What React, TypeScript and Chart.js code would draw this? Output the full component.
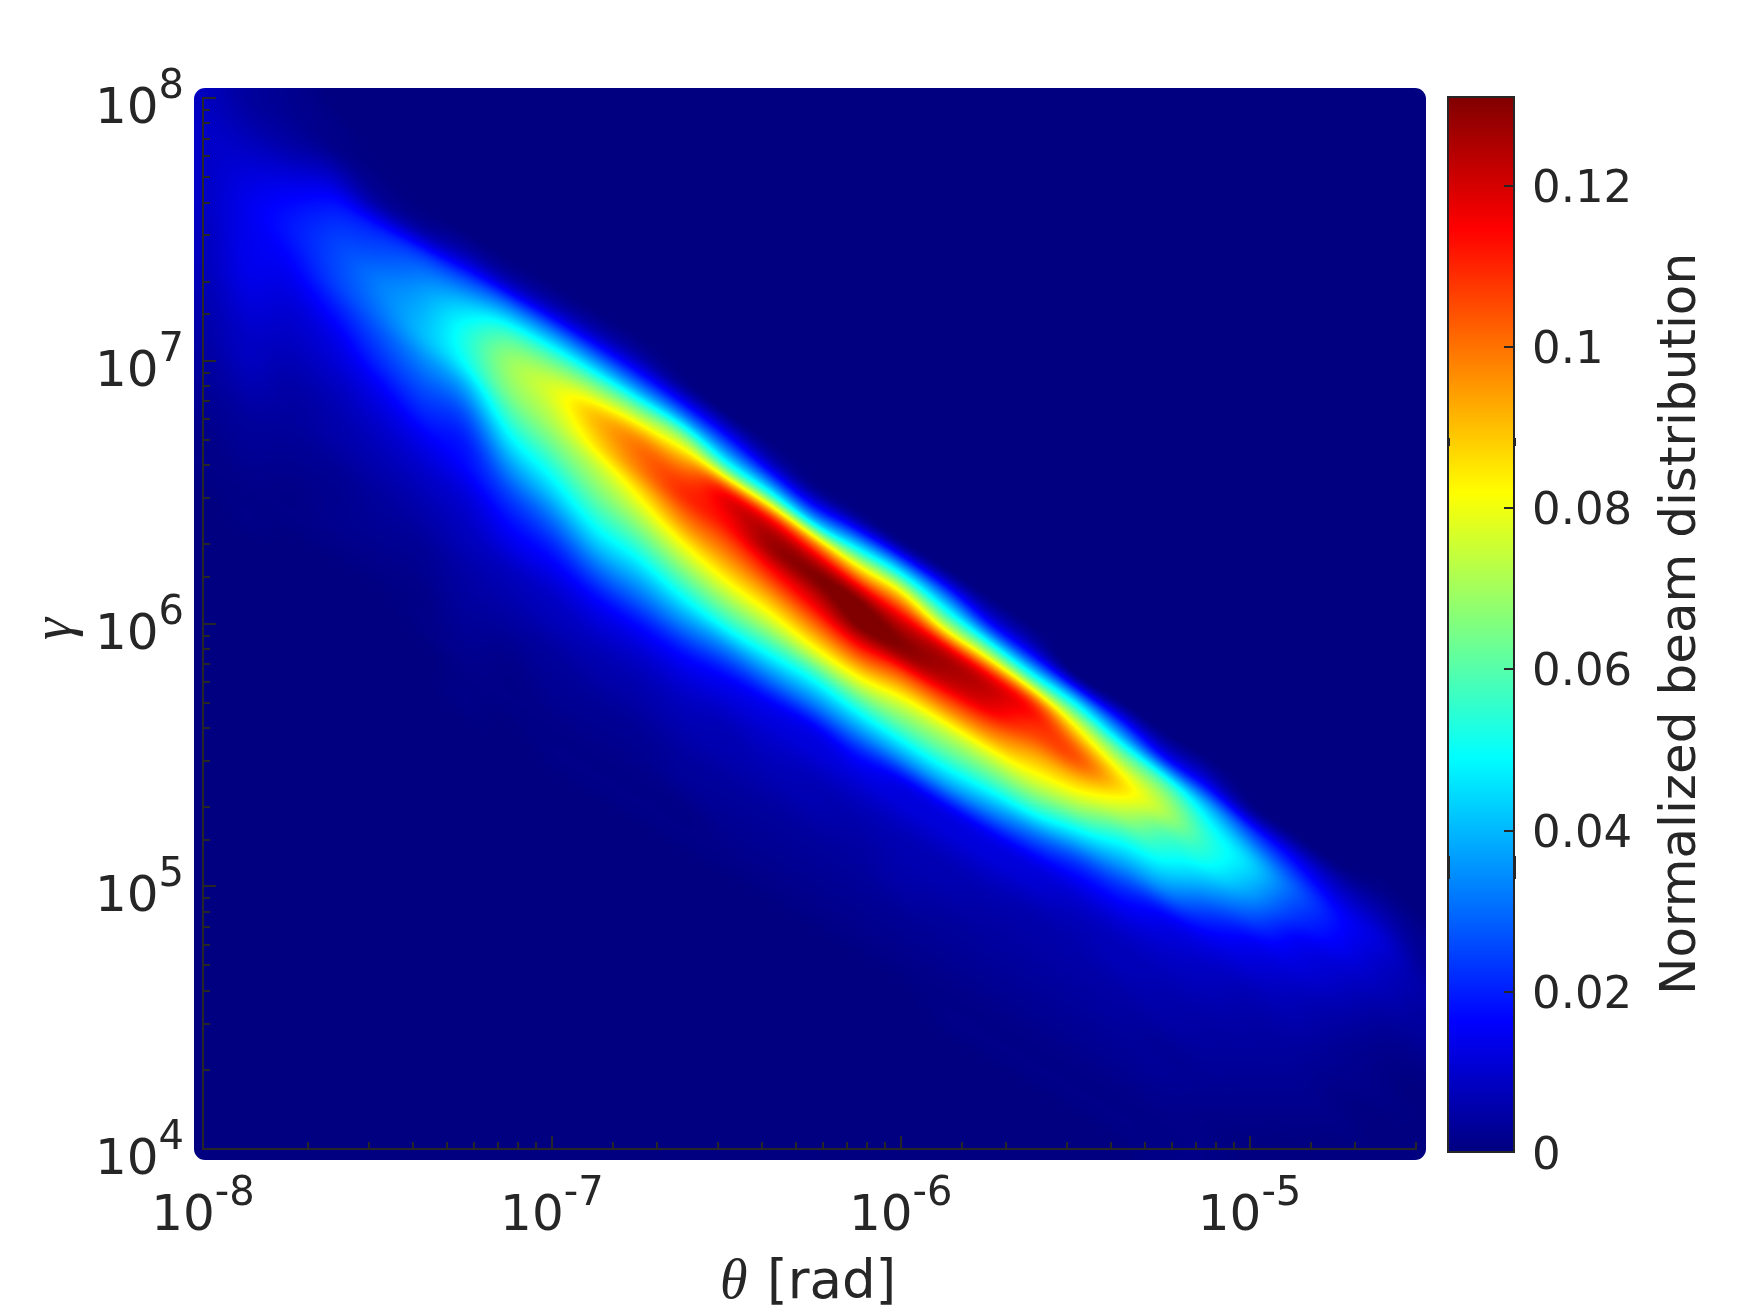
import React, { useEffect, useRef } from "react";
import { Chart, registerables } from "chart.js";

Chart.register(...registerables);

// log10(theta) of each sampled column
const thetaExponents = [
  -8, -7.875, -7.75, -7.625, -7.5, -7.375, -7.25, -7.125, -7, -6.875, -6.75, -6.625, -6.5, -6.375, -6.25,
  -6.125, -6, -5.875, -5.75, -5.625, -5.5, -5.375, -5.25, -5.125, -5, -4.875, -4.75, -4.625, -4.5,
];
// log10(gamma) of each sampled row
const gammaExponents = [
  8, 7.9, 7.8, 7.7, 7.6, 7.5, 7.4, 7.3, 7.2, 7.1, 7, 6.9, 6.8, 6.7, 6.6, 6.5, 6.4, 6.3, 6.2, 6.1, 6, 5.9, 5.8,
  5.7, 5.6, 5.5, 5.4, 5.3, 5.2, 5.1, 5, 4.9, 4.8, 4.7, 4.6, 4.5, 4.4, 4.3, 4.2, 4.1, 4,
];
// beam distribution x 1000, one list per theta column, top row first (missing tail = 0)
const beamByTheta = [
  [8, 9, 9, 9, 9, 8, 8, 7, 6, 5, 4, 3, 2, 1, 1],
  [4, 6, 9, 12, 14, 14, 14, 13, 11, 9, 8, 6, 4, 3, 2, 1, 1],
  [2, 3, 6, 12, 17, 19, 17, 14, 11, 9, 7, 5, 4, 3, 2, 1, 1],
  [0, 1, 2, 9, 18, 23, 25, 24, 19, 14, 11, 8, 6, 5, 3, 2, 2, 1],
  [0, 0, 0, 1, 5, 20, 27, 32, 31, 26, 21, 15, 11, 8, 6, 4, 3, 2, 1],
  [0, 0, 0, 0, 0, 5, 24, 34, 39, 40, 33, 26, 20, 14, 10, 7, 5, 3, 2, 1, 1],
  [0, 0, 0, 0, 0, 0, 8, 28, 44, 52, 50, 38, 27, 20, 17, 12, 9, 7, 5, 4, 3, 2, 1, 1],
  [0, 0, 0, 0, 0, 0, 0, 8, 34, 57, 68, 66, 57, 46, 35, 25, 18, 13, 8, 6, 4, 2, 1, 1],
  [0, 0, 0, 0, 0, 0, 0, 0, 9, 36, 62, 77, 74, 65, 54, 43, 31, 21, 14, 9, 7, 4, 3, 2, 1, 1],
  [0, 0, 0, 0, 0, 0, 0, 0, 0, 9, 35, 66, 89, 87, 74, 64, 53, 41, 28, 17, 11, 7, 5, 3, 2, 1, 1],
  [0, 0, 0, 0, 0, 0, 0, 0, 0, 0, 8, 33, 69, 97, 99, 85, 71, 57, 43, 30, 18, 11, 7, 5, 3, 2, 1, 1],
  [0, 0, 0, 0, 0, 0, 0, 0, 0, 0, 0, 4, 30, 71, 99, 109, 98, 81, 65, 49, 33, 19, 12, 8, 6, 4, 3, 1, 1],
  [0, 0, 0, 0, 0, 0, 0, 0, 0, 0, 0, 0, 1, 22, 56, 112, 115, 103, 88, 71, 53, 32, 17, 11, 7, 6, 4, 3, 2, 1],
  [0, 0, 0, 0, 0, 0, 0, 0, 0, 0, 0, 0, 0, 0, 12, 50, 112, 127, 112, 93, 74, 53, 33, 16, 11, 8, 6, 4, 3, 2, 1],
  [0, 0, 0, 0, 0, 0, 0, 0, 0, 0, 0, 0, 0, 0, 0, 5, 38, 102, 130, 120, 101, 79, 53, 33, 15, 11, 7, 6, 4, 3, 2, 1],
  [0, 0, 0, 0, 0, 0, 0, 0, 0, 0, 0, 0, 0, 0, 0, 0, 5, 43, 92, 129, 131, 108, 82, 57, 36, 18, 11, 7, 5, 4, 3, 2, 1],
  [0, 0, 0, 0, 0, 0, 0, 0, 0, 0, 0, 0, 0, 0, 0, 0, 0, 4, 45, 91, 122, 129, 102, 77, 58, 37, 15, 11, 7, 6, 5, 3, 2, 1],
  [0, 0, 0, 0, 0, 0, 0, 0, 0, 0, 0, 0, 0, 0, 0, 0, 0, 0, 3, 35, 72, 120, 124, 102, 76, 58, 38, 15, 11, 7, 6, 4, 3, 2, 1, 1],
  [0, 0, 0, 0, 0, 0, 0, 0, 0, 0, 0, 0, 0, 0, 0, 0, 0, 0, 0, 1, 20, 65, 116, 119, 100, 76, 56, 35, 15, 11, 7, 5, 4, 3, 2, 1, 1],
  [0, 0, 0, 0, 0, 0, 0, 0, 0, 0, 0, 0, 0, 0, 0, 0, 0, 0, 0, 0, 0, 13, 54, 108, 108, 92, 75, 54, 30, 14, 10, 6, 5, 4, 3, 2, 1, 1],
  [0, 0, 0, 0, 0, 0, 0, 0, 0, 0, 0, 0, 0, 0, 0, 0, 0, 0, 0, 0, 0, 0, 3, 47, 85, 104, 88, 68, 45, 24, 13, 8, 6, 5, 4, 3, 2, 1, 1],
  [0, 0, 0, 0, 0, 0, 0, 0, 0, 0, 0, 0, 0, 0, 0, 0, 0, 0, 0, 0, 0, 0, 0, 2, 32, 67, 87, 75, 55, 38, 22, 13, 8, 7, 5, 4, 3, 2, 1, 1],
  [0, 0, 0, 0, 0, 0, 0, 0, 0, 0, 0, 0, 0, 0, 0, 0, 0, 0, 0, 0, 0, 0, 0, 0, 0, 17, 58, 72, 59, 49, 35, 17, 11, 8, 6, 5, 3, 3, 2, 1, 1],
  [0, 0, 0, 0, 0, 0, 0, 0, 0, 0, 0, 0, 0, 0, 0, 0, 0, 0, 0, 0, 0, 0, 0, 0, 0, 0, 13, 42, 54, 51, 38, 24, 14, 9, 7, 5, 4, 3, 2, 1, 1],
  [0, 0, 0, 0, 0, 0, 0, 0, 0, 0, 0, 0, 0, 0, 0, 0, 0, 0, 0, 0, 0, 0, 0, 0, 0, 0, 0, 3, 27, 43, 39, 28, 16, 11, 7, 5, 4, 3, 2, 1],
  [0, 0, 0, 0, 0, 0, 0, 0, 0, 0, 0, 0, 0, 0, 0, 0, 0, 0, 0, 0, 0, 0, 0, 0, 0, 0, 0, 0, 1, 17, 28, 24, 16, 12, 8, 6, 4, 3, 2, 1],
  [0, 0, 0, 0, 0, 0, 0, 0, 0, 0, 0, 0, 0, 0, 0, 0, 0, 0, 0, 0, 0, 0, 0, 0, 0, 0, 0, 0, 0, 0, 9, 17, 16, 11, 8, 5, 3, 2, 1, 1],
  [0, 0, 0, 0, 0, 0, 0, 0, 0, 0, 0, 0, 0, 0, 0, 0, 0, 0, 0, 0, 0, 0, 0, 0, 0, 0, 0, 0, 0, 0, 1, 6, 11, 9, 7, 4, 2, 1, 1],
  [0, 0, 0, 0, 0, 0, 0, 0, 0, 0, 0, 0, 0, 0, 0, 0, 0, 0, 0, 0, 0, 0, 0, 0, 0, 0, 0, 0, 0, 0, 0, 0, 2, 3, 5, 4, 3, 1],
];

const thetaTickExponents = ["-8", "-7", "-6", "-5"];
const gammaTickExponents = ["8", "7", "6", "5", "4"];
const colorbarTicks = [0, 0.02, 0.04, 0.06, 0.08, 0.1, 0.12];
const colorbarLabels = ["0", "0.02", "0.04", "0.06", "0.08", "0.1", "0.12"];
const colorbarMax = 0.131;
const colorbarTitle = "Normalized beam distribution";
const jetStops = [
  [0, "rgb(0,0,128)"],
  [0.125, "rgb(0,0,255)"],
  [0.375, "rgb(0,255,255)"],
  [0.625, "rgb(255,255,0)"],
  [0.875, "rgb(255,0,0)"],
  [1, "rgb(128,0,0)"],
];

const INK = "#262626";
const SANS = '"DejaVu Sans"';

const clamp01 = (a: number) => (a < 0 ? 0 : a > 1 ? 1 : a);

// Row of each column's ridge, taken from the table: the shading follows it between columns.
const ridgeRows: number[] = (() => {
  let rows = beamByTheta.map((col) => {
    let a = 0;
    let b = 0;
    col.forEach((val, j) => {
      a += val * val * j;
      b += val * val;
    });
    return a / b;
  });
  for (let pass = 0; pass < 3; pass++) {
    rows = rows.map((c, i) =>
      i === 0 || i === rows.length - 1 ? c : (2 * c + rows[i - 1] + rows[i + 1]) / 4,
    );
  }
  return rows;
})();

function cubicWeights(t: number) {
  const t2 = t * t;
  const t3 = t2 * t;
  return [-0.5 * t3 + t2 - 0.5 * t, 1.5 * t3 - 2.5 * t2 + 1, -1.5 * t3 + 2 * t2 + 0.5 * t, 0.5 * t3 - 0.5 * t2];
}

function columnAt(ci: number, row: number) {
  const col = beamByTheta[ci];
  const j0 = Math.floor(row);
  const w = cubicWeights(row - j0);
  let s = 0;
  for (let b = 0; b < 4; b++) {
    const cj = Math.min(gammaExponents.length - 1, Math.max(0, j0 + b - 1));
    s += w[b] * (col[cj] ?? 0);
  }
  return s;
}

function sampleField(u: number, v: number) {
  const last = thetaExponents.length - 1;
  const du = thetaExponents[1] - thetaExponents[0];
  const dv = gammaExponents[0] - gammaExponents[1];
  const fi = Math.min(last - 1e-6, Math.max(0, (u - thetaExponents[0]) / du));
  const row = (gammaExponents[0] - v) / dv;
  const i0 = Math.floor(fi);
  const tx = fi - i0;
  const ridge = ridgeRows[i0] + tx * (ridgeRows[i0 + 1] - ridgeRows[i0]);
  const off = row - ridge;
  const wx = cubicWeights(tx);
  let sum = 0;
  for (let a = 0; a < 4; a++) {
    const ci = Math.min(last, Math.max(0, i0 + a - 1));
    sum += wx[a] * columnAt(ci, Math.max(0, Math.min(40, ridgeRows[ci] + off)));
  }
  return sum / 1000;
}

const heatPlugin = {
  id: "beamHeat",
  beforeDatasetsDraw(chart: any) {
    const { ctx, chartArea, scales } = chart;
    const pad = 10;
    const x0 = Math.round(chartArea.left) - pad + 1;
    const x1 = Math.round(chartArea.right) + pad;
    const y0 = Math.round(chartArea.top) - pad;
    const y1 = Math.round(chartArea.bottom) + pad + 1;
    const w = x1 - x0;
    const h = y1 - y0;
    const off = document.createElement("canvas");
    off.width = w;
    off.height = h;
    const octx = off.getContext("2d")!;
    const img = octx.createImageData(w, h);
    const us = new Float64Array(w);
    for (let i = 0; i < w; i++) us[i] = Math.log10(scales.x.getValueForPixel(x0 + i));
    let p = 0;
    for (let j = 0; j < h; j++) {
      const v = Math.log10(scales.y.getValueForPixel(y0 + j));
      for (let i = 0; i < w; i++) {
        const t = clamp01(sampleField(us[i], v) / colorbarMax);
        img.data[p++] = 255 * clamp01(Math.min(4 * t - 1.5, -4 * t + 4.5));
        img.data[p++] = 255 * clamp01(Math.min(4 * t - 0.5, -4 * t + 3.5));
        img.data[p++] = 255 * clamp01(Math.min(4 * t + 0.5, -4 * t + 2.5));
        img.data[p++] = 255;
      }
    }
    octx.putImageData(img, 0, 0);
    ctx.save();
    ctx.beginPath();
    ctx.roundRect(x0, y0, w, h, 11);
    ctx.clip();
    ctx.drawImage(off, x0, y0);
    ctx.restore();
  },
  afterDatasetsDraw(chart: any) {
    const { ctx, chartArea, scales } = chart;
    ctx.save();
    ctx.strokeStyle = INK;
    ctx.fillStyle = INK;
    ctx.lineWidth = 2;
    ctx.beginPath();
    ctx.moveTo(chartArea.left, chartArea.top - 1);
    ctx.lineTo(chartArea.left, chartArea.bottom);
    ctx.lineTo(chartArea.right + 1, chartArea.bottom);
    for (const t of scales.x.ticks) {
      const px = Math.round(scales.x.getPixelForValue(t.value));
      const e = Math.log10(t.value);
      const len = Math.abs(e - Math.round(e)) < 1e-6 ? 13 : 7;
      ctx.moveTo(px, chartArea.bottom);
      ctx.lineTo(px, chartArea.bottom - len);
    }
    for (const t of scales.y.ticks) {
      const py = Math.round(scales.y.getPixelForValue(t.value));
      const e = Math.log10(t.value);
      const len = Math.abs(e - Math.round(e)) < 1e-6 ? 13 : 7;
      ctx.moveTo(chartArea.left, py);
      ctx.lineTo(chartArea.left + len, py);
    }
    ctx.stroke();

    const baseFont = `50px ${SANS}`;
    const expFont = `40px ${SANS}`;
    ctx.textBaseline = "alphabetic";
    ctx.textAlign = "left";
    const power = (exp: string) => {
      ctx.font = baseFont;
      const bw = ctx.measureText("10").width;
      ctx.font = expFont;
      const ew = ctx.measureText(exp).width;
      return { bw, ew };
    };
    for (const exp of thetaTickExponents) {
      const px = scales.x.getPixelForValue(Math.pow(10, Number(exp)));
      const { bw, ew } = power(exp);
      const left = px - (bw + ew) / 2;
      ctx.font = baseFont;
      ctx.fillText("10", left, 1230);
      ctx.font = expFont;
      ctx.fillText(exp, left + bw, 1205);
    }
    for (const exp of gammaTickExponents) {
      const py = scales.y.getPixelForValue(Math.pow(10, Number(exp)));
      const { bw, ew } = power(exp);
      const left = 184 - bw - ew;
      ctx.font = baseFont;
      ctx.fillText("10", left, py + 25);
      ctx.font = expFont;
      ctx.fillText(exp, left + bw, py);
    }

    ctx.font = 'italic 56px "Liberation Serif"';
    ctx.fillText("\u03b8", 720, 1298);
    ctx.font = `53px ${SANS}`;
    ctx.fillText("[rad]", 767, 1298);

    ctx.save();
    ctx.translate(71, 640);
    ctx.rotate(-Math.PI / 2);
    ctx.font = 'italic 56px "Liberation Serif"';
    ctx.fillText("\u03b3", 0, 0);
    ctx.restore();
    ctx.restore();
  },
};

const colorbarPlugin = {
  id: "colorbarFrame",
  afterDatasetsDraw(chart: any) {
    const { ctx, chartArea, scales } = chart;
    const y = scales.y;
    ctx.save();
    ctx.strokeStyle = INK;
    ctx.fillStyle = INK;
    ctx.lineWidth = 2;
    ctx.strokeRect(chartArea.left, chartArea.top, chartArea.width, chartArea.height - 1);
    ctx.beginPath();
    colorbarTicks.forEach((v) => {
      if (v === 0) return;
      const py = Math.round(y.getPixelForValue(v));
      ctx.moveTo(chartArea.right - 10, py);
      ctx.lineTo(chartArea.right, py);
    });
    ctx.stroke();
    ctx.fillRect(chartArea.left - 1, 438, 3, 8);
    ctx.fillRect(chartArea.right - 1, 438, 3, 8);
    ctx.fillRect(chartArea.left - 1, 856, 3, 23);
    ctx.fillRect(chartArea.right - 1, 856, 3, 23);
    ctx.font = `45px ${SANS}`;
    ctx.textAlign = "left";
    ctx.textBaseline = "alphabetic";
    colorbarTicks.forEach((v, i) => {
      ctx.fillText(colorbarLabels[i], 1532, y.getPixelForValue(v) + 16);
    });
    ctx.save();
    ctx.translate(1695, 995);
    ctx.rotate(-Math.PI / 2);
    ctx.font = `50px ${SANS}`;
    ctx.fillText(colorbarTitle, 0, 0);
    ctx.restore();
    ctx.restore();
  },
};

const canvasStyle: React.CSSProperties = { position: "absolute", left: 0, top: 0, display: "block" };

export default function App() {
  const mainRef = useRef<HTMLCanvasElement>(null);
  const barRef = useRef<HTMLCanvasElement>(null);

  useEffect(() => {
    const cells: { x: number; y: number; v: number }[] = [];
    thetaExponents.forEach((u, i) => {
      gammaExponents.forEach((e, j) => {
        cells.push({ x: Math.pow(10, u), y: Math.pow(10, e), v: (beamByTheta[i][j] ?? 0) / 1000 });
      });
    });
    const hidden = { display: false };
    const main = new Chart(mainRef.current!, {
      type: "scatter",
      data: { datasets: [{ label: "beam", data: cells, pointRadius: 0, pointHoverRadius: 0 }] },
      options: {
        animation: false,
        responsive: false,
        devicePixelRatio: 1,
        events: [],
        clip: false,
        layout: { padding: { left: 203, top: 98, right: 1748 - 1416, bottom: 1312 - 1149 } },
        plugins: { legend: hidden, tooltip: { enabled: false }, title: hidden },
        scales: {
          x: {
            type: "logarithmic",
            min: 1e-8,
            max: 3e-5,
            ticks: { display: false },
            grid: { display: false, drawTicks: false },
            border: { display: false },
          },
          y: {
            type: "logarithmic",
            min: 1e4,
            max: 1e8,
            ticks: { display: false },
            grid: { display: false, drawTicks: false },
            border: { display: false },
          },
        },
      } as any,
      plugins: [heatPlugin],
    });
    const bar = new Chart(barRef.current!, {
      type: "bar",
      data: {
        labels: ["scale"],
        datasets: [
          {
            data: [[0, colorbarMax]],
            barPercentage: 1,
            categoryPercentage: 1,
            backgroundColor: (c: any) => {
              const area = c.chart.chartArea;
              if (!area) return "#000080";
              const g = c.chart.ctx.createLinearGradient(0, area.bottom, 0, area.top);
              jetStops.forEach(([o, col]) => g.addColorStop(o as number, col as string));
              return g;
            },
          } as any,
        ],
      },
      options: {
        animation: false,
        responsive: false,
        devicePixelRatio: 1,
        events: [],
        layout: { padding: { left: 1448, top: 97, right: 1748 - 1514, bottom: 1312 - 1153 } },
        plugins: { legend: hidden, tooltip: { enabled: false }, title: hidden },
        scales: {
          x: { ticks: { display: false }, grid: { display: false, drawTicks: false }, border: { display: false } },
          y: {
            min: 0,
            max: colorbarMax,
            ticks: { display: false },
            grid: { display: false, drawTicks: false },
            border: { display: false },
          },
        },
      } as any,
      plugins: [colorbarPlugin],
    });
    return () => {
      main.destroy();
      bar.destroy();
    };
  }, []);

  return (
    <div style={{ width: 1748, height: 1312 }}>
      <canvas ref={mainRef} width={1748} height={1312} style={canvasStyle} />
      <canvas ref={barRef} width={1748} height={1312} style={canvasStyle} />
    </div>
  );
}
